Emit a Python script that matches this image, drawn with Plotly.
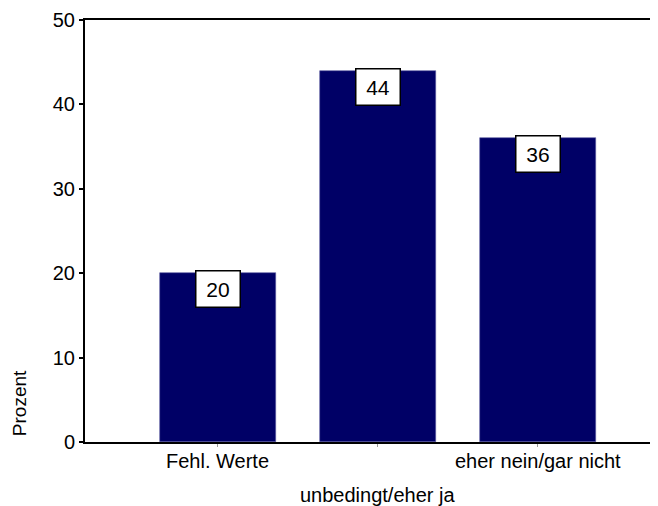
import plotly.graph_objects as go

categories = ["Fehl. Werte", "unbedingt/eher ja", "eher nein/gar nicht"]
values = [20, 44, 36]
y_ticks = [0, 10, 20, 30, 40, 50]
y_title = "Prozent"

FONT = "Liberation Sans, Arial, sans-serif"
BAR = "#000066"

xpos = list(range(len(categories)))

fig = go.Figure()
fig.add_trace(go.Bar(
    x=xpos, y=values, width=0.725,
    marker=dict(color=BAR, line=dict(color="#5a5aa0", width=0.6)),
    hoverinfo="skip",
))

annotations = []
for x, v in zip(xpos, values):
    annotations.append(dict(
        x=x, y=v, xref="x", yref="y", text=str(v), showarrow=False,
        yanchor="top", xanchor="center", yshift=3,
        width=43, height=35, borderpad=0, borderwidth=1.5,
        bordercolor="black", bgcolor="white",
        font=dict(family=FONT, size=21, color="black"),
    ))

# staggered category labels
shifts = [-6, -40, -6]
for x, c, s in zip(xpos, categories, shifts):
    annotations.append(dict(
        x=x, y=0, xref="x", yref="paper", text=c, showarrow=False,
        yanchor="top", xanchor="center", yshift=s,
        font=dict(family=FONT, size=20, color="black"),
    ))

annotations.append(dict(
    x=0, y=4.6, xref="paper", yref="y", text=y_title, showarrow=False,
    xanchor="center", yanchor="middle", xshift=-66, textangle=-90,
    font=dict(family=FONT, size=19, color="black"),
))

# page has an 8px default body margin, so the figure is sized to fit
fig.update_layout(
    width=650, height=498,
    margin=dict(l=77, r=0, t=12, b=64),
    paper_bgcolor="white", plot_bgcolor="white",
    showlegend=False,
    annotations=annotations,
    bargap=0,
)
fig.update_xaxes(
    range=[-0.83, 2.75], tickvals=xpos, ticktext=["", "", ""],
    ticks="outside", ticklen=3, tickcolor="#999999", tickwidth=1,
    showline=True, linecolor="black", linewidth=2, mirror=True,
    showgrid=False, zeroline=False, fixedrange=True,
)
fig.update_yaxes(
    range=[0, 50], tickvals=y_ticks,
    ticks="outside", ticklen=4, tickwidth=2, tickcolor="black",
    showline=True, linecolor="black", linewidth=2, mirror=False,
    showgrid=False, zeroline=False,
    tickfont=dict(family=FONT, size=20, color="black"),
)

fig.write_html("out.html")
